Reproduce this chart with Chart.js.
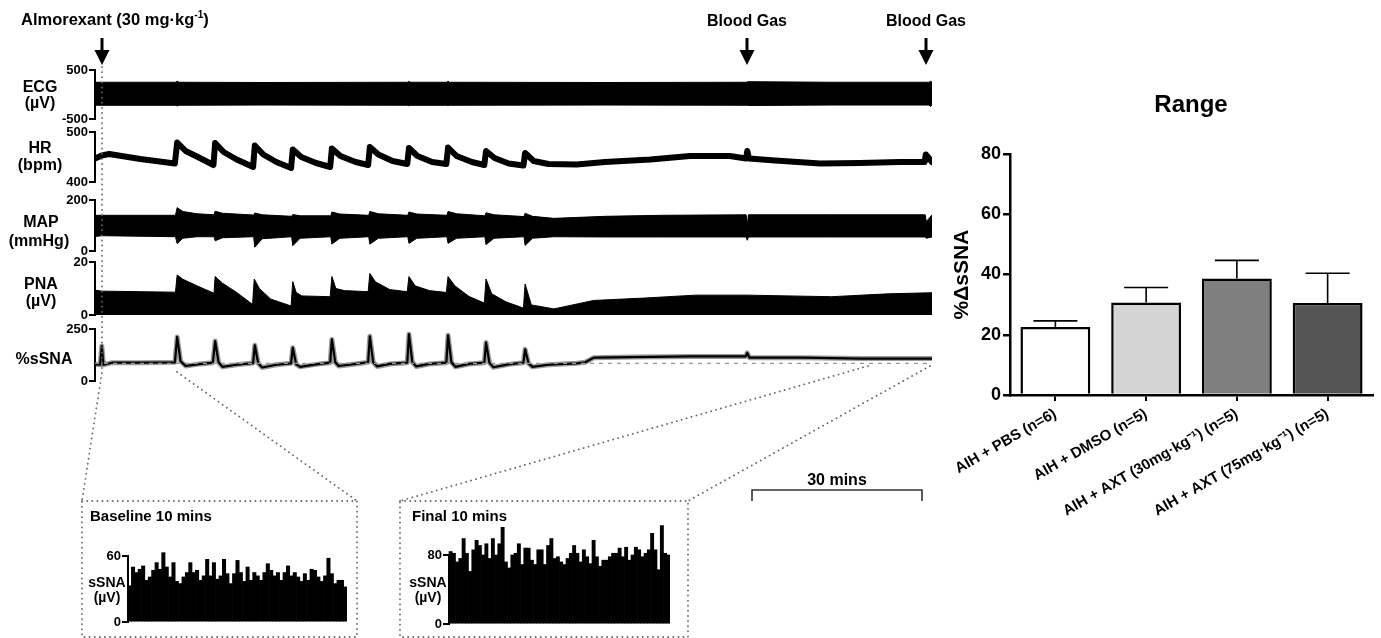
<!DOCTYPE html>
<html>
<head>
<meta charset="utf-8">
<title>Almorexant AIH</title>
<script src="https://cdn.jsdelivr.net/npm/chart.js@4.4.0/dist/chart.umd.min.js"></script>
<style>
  body { margin: 0; background: #fff; width: 1381px; height: 638px; position: relative; overflow: hidden; }
  .c { position: absolute; }
  svg { position: absolute; left: 0; top: 0; }
</style>
</head>
<body>
<div class="c" style="left:0;top:58px"><canvas id="ecg" width="940" height="73"></canvas></div>
<div class="c" style="left:0;top:120px"><canvas id="hr" width="940" height="74"></canvas></div>
<div class="c" style="left:0;top:188px"><canvas id="map" width="940" height="75"></canvas></div>
<div class="c" style="left:0;top:250px"><canvas id="pna" width="940" height="77"></canvas></div>
<div class="c" style="left:0;top:317px"><canvas id="ssna" width="940" height="76"></canvas></div>
<div class="c" style="left:60px;top:536px"><canvas id="base" width="287" height="95"></canvas></div>
<div class="c" style="left:400px;top:515px"><canvas id="final" width="270" height="118"></canvas></div>
<div class="c" style="left:940px;top:134px"><canvas id="range" width="441" height="401"></canvas></div>

<svg width="1381" height="638">
  <g font-family="Liberation Sans, Arial, sans-serif" font-weight="bold" fill="#000">
    <text x="21" y="25" font-size="16.5">Almorexant (30 mg·kg<tspan font-size="10" dy="-7">-1</tspan><tspan dy="7">)</tspan></text>
    <text x="747" y="26" font-size="16" text-anchor="middle">Blood Gas</text>
    <text x="926" y="26" font-size="16" text-anchor="middle">Blood Gas</text>

    <text x="40" y="92" font-size="16" text-anchor="middle">ECG</text>
    <text x="40" y="108" font-size="16" text-anchor="middle">(µV)</text>
    <text x="40" y="153" font-size="16" text-anchor="middle">HR</text>
    <text x="40" y="170" font-size="16" text-anchor="middle">(bpm)</text>
    <text x="41" y="227" font-size="16" text-anchor="middle">MAP</text>
    <text x="39" y="246" font-size="16" text-anchor="middle">(mmHg)</text>
    <text x="41" y="289" font-size="16" text-anchor="middle">PNA</text>
    <text x="41" y="306" font-size="16" text-anchor="middle">(µV)</text>
    <text x="44" y="364" font-size="16" text-anchor="middle">%sSNA</text>

    <text x="90" y="521" font-size="15">Baseline 10 mins</text>
    <text x="412" y="521" font-size="15">Final 10 mins</text>
    <text x="107" y="587" font-size="14" text-anchor="middle">sSNA</text>
    <text x="107" y="602" font-size="14" text-anchor="middle">(µV)</text>
    <text x="428" y="587" font-size="14" text-anchor="middle">sSNA</text>
    <text x="428" y="602" font-size="14" text-anchor="middle">(µV)</text>

    <text x="837" y="485" font-size="16" text-anchor="middle">30 mins</text>
    <text x="1191" y="112" font-size="24" text-anchor="middle">Range</text>
  </g>

  <!-- arrows -->
  <g stroke="#000" stroke-width="3">
    <line x1="102" y1="38" x2="102" y2="53"/>
    <line x1="747" y1="38" x2="747" y2="53"/>
    <line x1="926" y1="38" x2="926" y2="53"/>
  </g>
  <g fill="#000">
    <polygon points="94.5,50 109.5,50 102,65"/>
    <polygon points="739.5,50 754.5,50 747,65"/>
    <polygon points="918.5,50 933.5,50 926,65"/>
  </g>

  <!-- dotted guides -->
  <g fill="none" stroke="#666" stroke-width="1.8" stroke-linecap="round" stroke-dasharray="0.1 5">
    <path d="M102,67 L102,372 L82,501"/>
    <path d="M177,372 L357,501"/>
    <path d="M868,366 L400,501"/>
    <path d="M930,366 L688,501"/>
    <rect x="82" y="501" width="275" height="136"/>
    <rect x="400" y="501" width="288" height="136"/>
  </g>

  <path d="M752,501 V490 H922 V501" fill="none" stroke="#333" stroke-width="1.6"/>
</svg>

<script>
// ---- data (time in minutes) ----
var traceEnd = 147.7;

var ecgTime  = [0, 14.3, 14.5, 14.8, 30, 55.2, 55.4, 55.6, 62.1, 62.3, 62.5, 90, 115, 115.1, 130, 147.2, 147.4, 147.7];
var ecgUpper = [250, 250, 275, 250, 245, 250, 270, 250, 250, 275, 250, 245, 250, 262, 250, 250, 270, 250];
var ecgLower = [-220, -220, -235, -220, -215, -220, -232, -220, -220, -230, -220, -215, -220, -225, -215, -215, -245, -215];

var hrTime = [0, 1.2, 2.5, 8, 14.1, 14.5, 16, 18.5, 20.9, 21.2, 22.7, 25, 27.9, 28.2, 29.7, 32, 34.6, 34.9, 36.4, 39,
  41.5, 41.8, 43.3, 46, 48.2, 48.5, 50, 52.5, 55.1, 55.4, 56.9, 59.5, 62, 62.3, 63.8, 66.5, 68.7, 69, 70.5, 73,
  75.6, 75.9, 77.4, 80, 85, 90, 98, 105, 112, 114.9, 115.1, 115.4, 120, 128, 135, 142, 146.4, 146.6, 147.7];
var hrBpm = [447, 453, 456, 446, 437, 479, 462, 448, 434, 478, 460, 445, 430, 473, 455, 440, 428, 465, 450, 438,
  430, 467, 452, 440, 434, 470, 455, 442, 436, 468, 452, 440, 436, 469, 452, 440, 434, 462, 448, 437,
  433, 458, 442, 436, 435, 440, 445, 452, 452, 447, 462, 447, 443, 437, 438, 440, 440, 455, 440];

var mapTime = [0, 1.2, 14.2, 14.5, 15.5, 18, 21, 21.2, 22.5, 28, 28.2, 29.5, 34.7, 34.9, 36.2, 41.6, 41.8, 43.2,
  48.3, 48.5, 50, 55.2, 55.4, 56.8, 62.1, 62.3, 63.8, 68.8, 69, 70.4, 75.7, 75.9, 77.2, 81, 90, 100,
  114.9, 115.1, 115.3, 130, 146.5, 146.7, 147.7];
var mapUpper = [140, 140, 140, 170, 155, 146, 142, 156, 148, 141, 149, 142, 136, 143, 138, 138, 153, 145,
  140, 155, 146, 140, 153, 145, 140, 155, 146, 138, 150, 142, 135, 148, 136, 128, 136, 140,
  142, 100, 142, 142, 142, 115, 142];
var mapLower = [57, 60, 56, 29, 50, 56, 56, 40, 52, 56, 15, 48, 56, 21, 50, 56, 27, 50,
  56, 27, 50, 56, 30, 50, 56, 30, 50, 56, 25, 50, 56, 22, 50, 56, 55, 55,
  55, 42, 55, 55, 55, 50, 55];

var pnaTime = [0, 1.2, 8, 14.2, 14.5, 15.5, 18, 21.0, 21.2, 22.5, 25, 27.8, 28.1, 29, 31, 34.6, 34.9, 35.5, 36.5,
  41.5, 41.8, 42.5, 44, 48.2, 48.5, 49.5, 52, 55.1, 55.4, 56.5, 59, 62.0, 62.3, 63.5, 66, 68.7, 69, 70, 72.5,
  75.6, 75.9, 77, 81, 88, 97, 106, 115, 130, 140, 147.7];
var pnaUv = [9.4, 9.0, 8.8, 8.6, 15.1, 13.5, 11, 8.2, 14.5, 12, 8.5, 4.0, 13.6, 10, 6, 3.4, 12.6, 8.5, 7.2,
  6.9, 14.5, 10, 9.2, 8.8, 15.7, 12.5, 9.6, 8.8, 14.5, 11, 9.2, 8.5, 14.5, 11, 7, 4.5, 13.6, 8, 5,
  2.6, 11.7, 3.8, 2.3, 5.5, 6.4, 7.5, 7.5, 6.9, 8, 8.4];

var ssnaTime = [0, 0.9, 1.2, 1.5, 3, 8, 14.1, 14.5, 15.1, 16, 18, 20.8, 21.2, 21.8, 22.5, 25, 27.9, 28.2, 28.8, 29.5,
  32, 34.6, 34.9, 35.5, 36.2, 39, 41.5, 41.8, 42.4, 43, 46, 48.2, 48.5, 49.1, 49.8, 52, 55.1, 55.4, 56, 56.7,
  59, 62.0, 62.3, 62.9, 63.6, 66, 68.7, 69, 69.6, 70.3, 73, 75.6, 75.9, 76.5, 77.2, 80, 85, 86.5, 88, 95,
  105, 114.8, 115.1, 115.5, 125, 135, 147.7];
var ssnaPct = [80, 78, 168, 78, 88, 88, 90, 212, 95, 72, 80, 88, 192, 90, 68, 78, 86, 172, 85, 65,
  78, 85, 160, 80, 68, 80, 88, 200, 90, 72, 82, 90, 215, 90, 70, 82, 88, 225, 90, 70,
  82, 88, 220, 90, 68, 82, 88, 185, 88, 66, 80, 88, 152, 85, 68, 78, 85, 90, 112, 115,
  118, 118, 135, 112, 112, 108, 108];
var ssnaRef = 85;

var baselineSsna = [33, 50, 45, 48, 51, 38, 41, 47, 54, 48, 63, 50, 41, 54, 37, 35, 41, 45, 54, 45, 47, 38,
  42, 57, 42, 54, 39, 42, 57, 44, 35, 44, 56, 45, 37, 50, 38, 45, 42, 38, 45, 53, 47, 42, 45, 38, 45, 51,
  42, 45, 41, 37, 44, 38, 48, 47, 41, 37, 42, 58, 44, 35, 38, 38, 32];
var finalSsna = [84, 82, 72, 76, 99, 82, 61, 86, 97, 91, 80, 93, 76, 99, 80, 93, 112, 72, 65, 80, 82, 93,
  69, 88, 88, 74, 69, 86, 86, 69, 91, 99, 76, 78, 72, 69, 76, 82, 91, 82, 72, 86, 78, 70, 97, 78, 67, 74,
  74, 78, 82, 82, 88, 78, 89, 74, 80, 89, 86, 78, 82, 86, 105, 86, 63, 114, 82, 80];

var rangeLabels = ['AIH + PBS (n=6)', 'AIH + DMSO (n=5)', 'AIH + AXT (30mg\u00b7kg\u207b\u00b9) (n=5)', 'AIH + AXT (75mg\u00b7kg\u207b\u00b9) (n=5)'];
var rangeMean = [22.6, 30.7, 38.7, 30.5];
var rangeSem = [2.0, 5.0, 6.0, 9.9];
var rangeColors = ['#ffffff', '#d4d4d4', '#7f7f7f', '#555555'];

// ---- charts ----
Chart.defaults.font.family = "'Liberation Sans', Arial, sans-serif";
Chart.defaults.font.weight = 'bold';
Chart.defaults.color = '#000';
Chart.defaults.animation = false;

function pts(xs, ys) {
  return xs.map(function (x, i) { return { x: x, y: ys[i] }; });
}

function bracketAxis(min, max, width, size) {
  return {
    min: min, max: max,
    afterFit: function (s) { s.width = width; },
    afterBuildTicks: function (s) { s.ticks = [{ value: min }, { value: max }]; },
    border: { display: true, color: '#000', width: 2 },
    grid: { drawOnChartArea: false, color: '#000', lineWidth: 2, tickLength: 6 },
    ticks: { color: '#000', font: { size: size, weight: 'bold' }, padding: 1, autoSkip: false }
  };
}

function traceChart(id, min, max, datasets) {
  return new Chart(document.getElementById(id), {
    type: 'line',
    data: { datasets: datasets },
    options: {
      responsive: false,
      layout: { padding: { top: 12, bottom: 12, right: 8, left: 0 } },
      plugins: { legend: { display: false }, tooltip: { enabled: false } },
      elements: { point: { radius: 0 }, line: { tension: 0 } },
      scales: {
        x: { type: 'linear', min: 0, max: traceEnd, display: false },
        y: bracketAxis(min, max, 95, 13)
      }
    }
  });
}

traceChart('ecg', -500, 500, [
  { data: pts(ecgTime, ecgUpper), borderColor: '#000', borderWidth: 1, fill: false },
  { data: pts(ecgTime, ecgLower), borderColor: '#000', borderWidth: 1, backgroundColor: '#000', fill: '-1' }
]);

traceChart('hr', 400, 500, [
  { data: pts(hrTime, hrBpm), borderColor: '#000', borderWidth: 6, borderJoinStyle: 'round', borderCapStyle: 'round' }
]);

traceChart('map', 0, 200, [
  { data: pts(mapTime, mapUpper), borderColor: '#000', borderWidth: 1, fill: false },
  { data: pts(mapTime, mapLower), borderColor: '#000', borderWidth: 1, backgroundColor: '#000', fill: '-1' }
]);

traceChart('pna', 0, 20, [
  { data: pts(pnaTime, pnaUv), borderColor: '#000', borderWidth: 1, backgroundColor: '#000', fill: 'origin' }
]);

traceChart('ssna', 0, 250, [
  { data: [{ x: 0, y: ssnaRef }, { x: traceEnd, y: ssnaRef }], borderColor: '#999', borderWidth: 1.2, borderDash: [4, 5] },
  { data: pts(ssnaTime, ssnaPct), borderColor: 'rgba(0,0,0,0.4)', borderWidth: 5, borderJoinStyle: 'round' },
  { data: pts(ssnaTime, ssnaPct), borderColor: '#000', borderWidth: 2.2, borderJoinStyle: 'round' }
]);

function insetChart(id, values, max, axisWidth, padTop) {
  return new Chart(document.getElementById(id), {
    type: 'bar',
    data: {
      labels: values.map(function (v, i) { return i + 1; }),
      datasets: [{ data: values, backgroundColor: '#000', borderWidth: 0, barPercentage: 1, categoryPercentage: 1, clip: false }]
    },
    options: {
      responsive: false,
      layout: { padding: { top: padTop, bottom: 8, right: 0, left: 0 } },
      plugins: { legend: { display: false }, tooltip: { enabled: false } },
      scales: {
        x: { display: false },
        y: bracketAxis(0, max, axisWidth, 13)
      }
    }
  });
}

insetChart('base', baselineSsna, 60, 68, 20);
insetChart('final', finalSsna, 80, 49, 40);

var errorBars = {
  id: 'errorBars',
  afterDatasetsDraw: function (chart) {
    var ctx = chart.ctx, y = chart.scales.y, meta = chart.getDatasetMeta(0);
    ctx.save();
    ctx.strokeStyle = '#000';
    ctx.lineWidth = 1.6;
    meta.data.forEach(function (bar, i) {
      var top = y.getPixelForValue(rangeMean[i] + rangeSem[i]);
      ctx.beginPath();
      ctx.moveTo(bar.x, bar.y);
      ctx.lineTo(bar.x, top);
      ctx.moveTo(bar.x - 22, top);
      ctx.lineTo(bar.x + 22, top);
      ctx.stroke();
    });
    ctx.restore();
  }
};

new Chart(document.getElementById('range'), {
  type: 'bar',
  data: {
    labels: rangeLabels,
    datasets: [{
      data: rangeMean,
      backgroundColor: rangeColors,
      borderColor: '#000',
      borderWidth: 2.5,
      barPercentage: 0.77,
      categoryPercentage: 1
    }]
  },
  options: {
    responsive: false,
    layout: { padding: { top: 20, right: 8, left: 0, bottom: 0 } },
    plugins: { legend: { display: false }, tooltip: { enabled: false } },
    scales: {
      x: {
        afterFit: function (s) { s.height = 140; },
        border: { display: true, color: '#000', width: 2.5 },
        grid: { drawOnChartArea: false, offset: false, color: '#000', lineWidth: 2, tickLength: 6 },
        ticks: { color: '#000', font: { size: 15, weight: 'bold' }, minRotation: 30, maxRotation: 30, padding: 4, autoSkip: false }
      },
      y: {
        min: 0, max: 80,
        afterFit: function (s) { s.width = 70; },
        border: { display: true, color: '#000', width: 2.5 },
        grid: { drawOnChartArea: false, color: '#000', lineWidth: 2.5, tickLength: 7 },
        ticks: { stepSize: 20, color: '#000', font: { size: 18, weight: 'bold' }, padding: 2 },
        title: { display: true, text: '%\u0394sSNA', color: '#000', font: { size: 21, weight: 'bold' }, padding: { top: 10, bottom: 0 } }
      }
    }
  },
  plugins: [errorBars]
});
</script>
</body>
</html>
